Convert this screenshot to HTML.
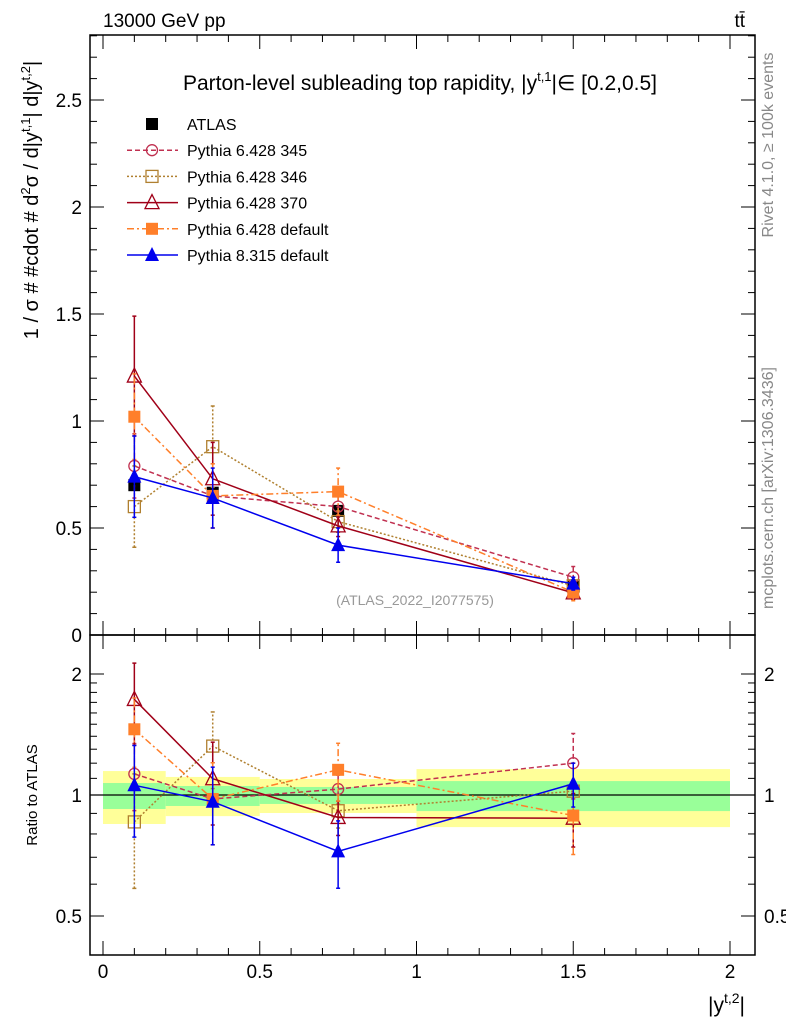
<!DOCTYPE html>
<html><head><meta charset="utf-8"><style>
html,body{margin:0;padding:0;background:#fff;}
svg{display:block;font-family:"Liberation Sans",sans-serif;}
</style></head><body>
<svg id="c" width="786" height="1024" viewBox="0 0 786 1024" xmlns="http://www.w3.org/2000/svg">
<g id="bands"></g><g id="axes"></g><g id="series"></g>
<text x="103" y="27" font-size="19">13000 GeV pp</text>
<text x="745" y="27" font-size="19" text-anchor="end">tt̄</text>
<text x="420" y="90" font-size="21" text-anchor="middle">Parton-level subleading top rapidity, |y<tspan dy="-9" font-size="13">t,1</tspan><tspan dy="9">|∈ [0.2,0.5]</tspan></text>
<text x="415" y="605" font-size="14" fill="#999" text-anchor="middle">(ATLAS_2022_I2077575)</text>
<text transform="translate(773,145) rotate(-90)" font-size="16" fill="#888" text-anchor="middle">Rivet 4.1.0, ≥ 100k events</text>
<text transform="translate(773,488) rotate(-90)" font-size="16" fill="#888" text-anchor="middle">mcplots.cern.ch [arXiv:1306.3436]</text>
<text transform="translate(38,200) rotate(-90)" font-size="20" text-anchor="middle">1 / σ # #cdot # d<tspan dy="-8" font-size="13">2</tspan><tspan dy="8">σ / d|y</tspan><tspan dy="-8" font-size="13">t,1</tspan><tspan dy="8">| d|y</tspan><tspan dy="-8" font-size="13">t,2</tspan><tspan dy="8">|</tspan></text>
<text transform="translate(37,795) rotate(-90)" font-size="15" text-anchor="middle">Ratio to ATLAS</text>
<text x="745" y="1012" font-size="21" text-anchor="end">|y<tspan dy="-9" font-size="14">t,2</tspan><tspan dy="9">|</tspan></text>
<g id="legend"></g>
</svg>
<script>
const xs=[0.1,0.35,0.75,1.5];
const binEdges=[0,0.2,0.5,1,2];
const atlas=[0.70,0.665,0.58,0.225];
const atlasErr=[0.02,0.02,0.02,0.01];
const p345=[0.79,0.65,0.60,0.27];
const p345Err=[0.15,0.15,0.05,0.05];
const p346=[0.60,0.88,0.53,0.23];
const p346Err=[0.19,0.19,0.05,0.04];
const p370=[1.21,0.73,0.51,0.197];
const p370Err=[0.28,0.17,0.05,0.03];
const p6def=[1.02,0.65,0.67,0.20];
const p6defErr=[0.2,0.15,0.11,0.04];
const p8=[0.74,0.64,0.42,0.24];
const p8Err=[0.19,0.14,0.08,0.03];
const bandYellowHi=[1.147,1.109,1.096,1.16];
const bandYellowLo=[0.847,0.886,0.902,0.832];
const bandGreenHi=[1.071,1.053,1.047,1.083];
const bandGreenLo=[0.923,0.939,0.950,0.912];
const mainTicks=["0","0.5","1","1.5","2","2.5"];
const ratioTicks=[0.5,1,2];
const xTicks=["0","0.5","1","1.5","2"];

const NS="http://www.w3.org/2000/svg";
const X=v=>103+v*313.5;
const Y=v=>635-v*214;
const R=v=>795-121*Math.log2(v);
const L=90,Rt=755;
function mk(p,t,a){const e=document.createElementNS(NS,t);for(const k in a)e.setAttribute(k,a[k]);p.appendChild(e);return e;}
const bands=document.getElementById('bands'),axes=document.getElementById('axes'),ser=document.getElementById('series'),leg=document.getElementById('legend');

for(let i=0;i<4;i++){
 const y=mk(bands,'rect',{x:X(binEdges[i]),y:R(bandYellowHi[i]),width:X(binEdges[i+1])-X(binEdges[i]),height:R(bandYellowLo[i])-R(bandYellowHi[i]),fill:'#ffff99'});
 
 
 const g=mk(bands,'rect',{x:X(binEdges[i]),y:R(bandGreenHi[i]),width:X(binEdges[i+1])-X(binEdges[i]),height:R(bandGreenLo[i])-R(bandGreenHi[i]),fill:'#99ff99'});
 
 
}
mk(axes,'line',{x1:L,x2:Rt,y1:R(1),y2:R(1),stroke:'#000','stroke-width':1.2});
mk(axes,'rect',{x:L,y:35,width:Rt-L,height:600,fill:'none',stroke:'#000','stroke-width':1.5});
mk(axes,'rect',{x:L,y:635,width:Rt-L,height:320,fill:'none',stroke:'#000','stroke-width':1.5});
for(let i=0;i<=29;i++){const v=i*0.1,y=Y(v);if(y<35)break;const len=(i%5==0)?14:7;
 mk(axes,'line',{x1:L,x2:L+len,y1:y,y2:y,stroke:'#000'});mk(axes,'line',{x1:Rt,x2:Rt-len,y1:y,y2:y,stroke:'#000'});}
mainTicks.forEach((t,i)=>{const e=mk(axes,'text',{x:82,y:Y(i*0.5)+7,'font-size':19,'text-anchor':'end'});e.textContent=t;
 
 });
[0.5,0.6,0.7,0.8,0.9,1,1.1,1.2,1.3,1.4,1.5,1.6,1.7,1.8,1.9,2].forEach(v=>{const y=R(v);if(y<638||y>952)return;const len=ratioTicks.includes(v)?14:7;
 mk(axes,'line',{x1:L,x2:L+len,y1:y,y2:y,stroke:'#000'});mk(axes,'line',{x1:Rt,x2:Rt-len,y1:y,y2:y,stroke:'#000'});});
ratioTicks.forEach(v=>{[[82,'end'],[764,'start']].forEach(([x,a])=>{const e=mk(axes,'text',{x:x,y:R(v)+7,'font-size':19,'text-anchor':a});e.textContent=String(v);
 
 });});
for(let i=0;i<=20;i++){const x=X(i*0.1);const len=(i%5==0)?14:7;
 [[35,1],[635,-1],[635,1],[955,-1]].forEach(([y,d])=>mk(axes,'line',{x1:x,x2:x,y1:y,y2:y+d*len,stroke:'#000'}));}
xTicks.forEach((t,i)=>{const e=mk(axes,'text',{x:X(i*0.5),y:978,'font-size':19,'text-anchor':'middle'});e.textContent=t;
 
 });

function marker(g,type,x,y,c){
 const s=6;
 if(type=='fsq')mk(g,'rect',{x:x-s,y:y-s,width:2*s,height:2*s,fill:c});
 if(type=='osq')mk(g,'rect',{x:x-s,y:y-s,width:2*s,height:2*s,fill:'none',stroke:c,'stroke-width':1.3});
 if(type=='oc')mk(g,'circle',{cx:x,cy:y,r:5.5,fill:'none',stroke:c,'stroke-width':1.3});
 if(type=='otr')mk(g,'polygon',{points:`${x},${y-8} ${x-7},${y+6} ${x+7},${y+6}`,fill:'none',stroke:c,'stroke-width':1.3});
 if(type=='ftr')mk(g,'polygon',{points:`${x},${y-8} ${x-7},${y+6} ${x+7},${y+6}`,fill:c});
}
const series=[
 {n:'pythia-6428-345',lab:'Pythia 6.428 345',v:p345,e:p345Err,c:'#c03050',d:'5,3',m:'oc'},
 {n:'pythia-6428-346',lab:'Pythia 6.428 346',v:p346,e:p346Err,c:'#b08030',d:'2,2',m:'osq'},
 {n:'pythia-6428-370',lab:'Pythia 6.428 370',v:p370,e:p370Err,c:'#a00018',d:'',m:'otr'},
 {n:'pythia-6428-default',lab:'Pythia 6.428 default',v:p6def,e:p6defErr,c:'#ff7f2a',d:'7,3,2,3',m:'fsq'},
 {n:'pythia-8315-default',lab:'Pythia 8.315 default',v:p8,e:p8Err,c:'#0000ee',d:'',m:'ftr'}];
const ga=mk(ser,'g',{});


xs.forEach((x,i)=>{mk(ga,'line',{x1:X(x),x2:X(x),y1:Y(atlas[i]-atlasErr[i]),y2:Y(atlas[i]+atlasErr[i]),stroke:'#000'});marker(ga,'fsq',X(x),Y(atlas[i]),'#000');});
series.forEach(s=>{
 const g=mk(ser,'g',{});
 
 
 const pm=xs.map((x,i)=>X(x)+','+Y(s.v[i])).join(' ');
 const pr=xs.map((x,i)=>X(x)+','+R(s.v[i]/atlas[i])).join(' ');
 mk(g,'polyline',{points:pm,fill:'none',stroke:s.c,'stroke-width':1.5,'stroke-dasharray':s.d});
 mk(g,'polyline',{points:pr,fill:'none',stroke:s.c,'stroke-width':1.5,'stroke-dasharray':s.d});
 xs.forEach((x,i)=>{const px=X(x);
  const lo=s.v[i]-s.e[i],hi=s.v[i]+s.e[i];
  mk(g,'line',{x1:px,x2:px,y1:Y(lo),y2:Y(hi),stroke:s.c,'stroke-width':1.5,'stroke-dasharray':s.d});
  [lo,hi].forEach(v=>mk(g,'line',{x1:px-2,x2:px+2,y1:Y(v),y2:Y(v),stroke:s.c,'stroke-width':1.5}));
  const rl=lo/atlas[i],rh=hi/atlas[i];
  mk(g,'line',{x1:px,x2:px,y1:R(Math.max(rl,0.45)),y2:R(rh),stroke:s.c,'stroke-width':1.5,'stroke-dasharray':s.d});
  [rl,rh].forEach(v=>mk(g,'line',{x1:px-2,x2:px+2,y1:R(Math.max(v,0.45)),y2:R(Math.max(v,0.45)),stroke:s.c,'stroke-width':1.5}));
  marker(g,s.m,px,Y(s.v[i]),s.c);marker(g,s.m,px,R(s.v[i]/atlas[i]),s.c);
 });
});
const le=[{n:'atlas',lab:'ATLAS',c:'#000',d:'',m:'fsq',line:false}].concat(series.map(s=>Object.assign({line:true},s)));
le.forEach((s,i)=>{const y=124+i*26.2;
 const g=mk(leg,'g',{});
 
 
 if(s.line)mk(g,'line',{x1:127,x2:178,y1:y,y2:y,stroke:s.c,'stroke-width':1.5,'stroke-dasharray':s.d});
 marker(g,s.m,152,y,s.c);
 const t=mk(g,'text',{x:187,y:y+6,'font-size':16});t.textContent=s.lab;});
</script>
</body></html>
